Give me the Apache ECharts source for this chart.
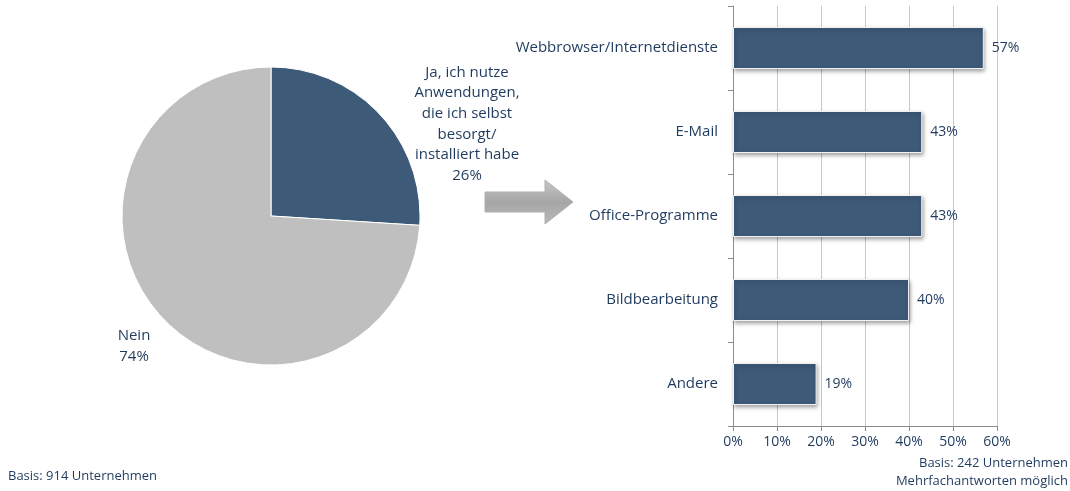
<!DOCTYPE html>
<html>
<head>
<meta charset="utf-8">
<script src="https://cdn.jsdelivr.net/npm/echarts@6/dist/echarts.min.js"></script>
<style>
  html, body { margin: 0; padding: 0; background: #fff; }
  #chart { width: 1070px; height: 491px; }
</style>
</head>
<body>
<div id="chart"></div>
<script>
  // Kreisdiagramm
  const pieNames = ["Ja, ich nutze\nAnwendungen,\ndie ich selbst\nbesorgt/\ninstalliert habe", "Nein"];
  const pieValues = [26, 74];

  // Balkendiagramm
  const barCategories = ["Webbrowser/Internetdienste", "E-Mail", "Office-Programme", "Bildbearbeitung", "Andere"];
  const barValues = [57, 43, 43, 40, 19];

  const textColor = "#1f3a5f";
  const font = "Open Sans";

  let chart = echarts.init(document.getElementById("chart"));
  let option = {
    animation: false,
    textStyle: { fontFamily: font },
    grid: {
      left: 733,
      right: 73,
      top: 6,
      bottom: 65,
      containLabel: false
    },
    xAxis: {
      type: "value",
      min: 0,
      max: 60,
      interval: 10,
      axisLine: { show: true, lineStyle: { color: "#8c8c8c" } },
      axisTick: { show: true, length: 5, lineStyle: { color: "#8c8c8c" } },
      axisLabel: { color: textColor, fontSize: 14, fontFamily: font, formatter: "{value}%", margin: 9 },
      splitLine: { show: true, lineStyle: { color: "#c8c8c8" } }
    },
    yAxis: {
      type: "category",
      inverse: true,
      data: barCategories,
      axisLine: { show: true, lineStyle: { color: "#8c8c8c" } },
      axisTick: { show: true, length: 5, lineStyle: { color: "#8c8c8c" } },
      axisLabel: { color: textColor, fontSize: 15, fontFamily: font, margin: 15 }
    },
    series: [
      {
        type: "pie",
        center: [271, 216],
        radius: 149,
        startAngle: 90,
        clockwise: true,
        data: pieNames.map((n, i) => ({ name: n, value: pieValues[i] })),
        itemStyle: { borderColor: "#fff", borderWidth: 1 },
        color: ["#3d5a78", "#bfbfbf"],
        label: {
          show: true,
          position: "outside",
          formatter: "{b}\n{c}%",
          color: textColor,
          fontSize: 15,
          fontFamily: font,
          lineHeight: 20.7,
          align: "center"
        },
        labelLine: { show: false },
        labelLayout: function (params) {
          if (params.dataIndex === 0) {
            return { x: 467, y: 124, align: "center", verticalAlign: "middle" };
          }
          return { x: 134, y: 346, align: "center", verticalAlign: "middle" };
        }
      },
      {
        type: "bar",
        data: barValues,
        barWidth: 42,
        itemStyle: {
          color: "#3d5a78",
          borderColor: "#f2f2f2",
          borderWidth: 1,
          shadowBlur: 4,
          shadowColor: "rgba(0,0,0,0.35)",
          shadowOffsetX: 1,
          shadowOffsetY: 2
        },
        label: {
          show: true,
          position: "right",
          distance: 8,
          formatter: "{c}%",
          color: textColor,
          fontSize: 14,
          fontFamily: font
        }
      }
    ],
    graphic: [
      {
        type: "polygon",
        shape: {
          points: [[485, 192], [545, 192], [545, 180], [573, 202], [545, 224], [545, 212], [485, 212]]
        },
        style: {
          fill: new echarts.graphic.LinearGradient(0, 0, 0, 1, [
            { offset: 0, color: "#c8c8c8" },
            { offset: 0.5, color: "#a6a6a6" },
            { offset: 1, color: "#b8b8b8" }
          ]),
          stroke: "#b0b0b0",
          lineWidth: 1
        }
      },
      {
        type: "text",
        style: { x: 8, y: 476, text: "Basis: 914 Unternehmen", fill: textColor, font: "13px Open Sans", align: "left", verticalAlign: "middle" }
      },
      {
        type: "text",
        style: { x: 1068, y: 463, text: "Basis: 242 Unternehmen", fill: textColor, font: "13px Open Sans", align: "right", verticalAlign: "middle" }
      },
      {
        type: "text",
        style: { x: 1068, y: 481, text: "Mehrfachantworten möglich", fill: textColor, font: "13px Open Sans", align: "right", verticalAlign: "middle" }
      }
    ]
  };
  chart.setOption(option, true);
</script>
</body>
</html>
